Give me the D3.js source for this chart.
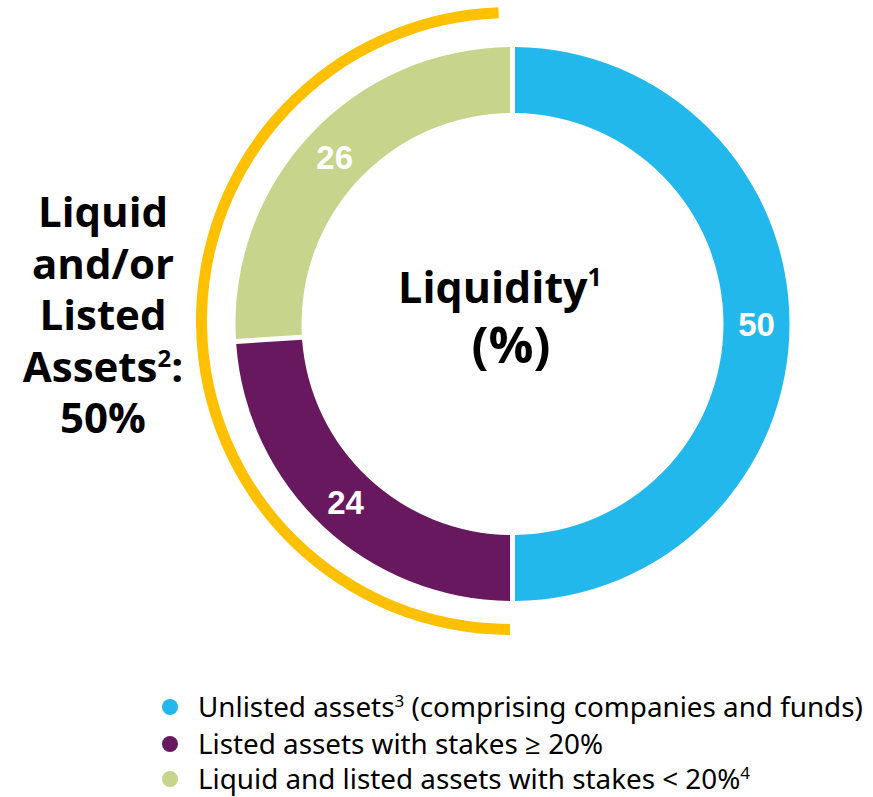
<!DOCTYPE html>
<html lang="en">
<head>
  <meta charset="UTF-8" />
  <title>Liquidity donut</title>
  <script src="https://d3js.org/d3.v7.min.js"></script>
  <style>
    body { margin: 0; padding: 0; background: #fff; }
    svg { display: block; }
  </style>
</head>
<body>
  <div id="chart"></div>
  <script>
    // data
    const categories = [
      "Unlisted assets",
      "Listed assets with stakes ≥ 20%",
      "Liquid and listed assets with stakes < 20%"
    ];
    const values = [50, 24, 26];
    const colors = ["#22b8eb", "#68185e", "#c6d58b"];
    const legendNotes = [
      { sup: "3", tail: " (comprising companies and funds)" },
      { sup: "", tail: "" },
      { sup: "4", tail: "" }
    ];
    const bracketShare = values[1] + values[2]; // liquid and/or listed
    const leftLines = ["Liquid", "and/or", "Listed", "Assets", `${bracketShare}%`];

    const W = 873, H = 797;
    const cx = 512.5, cy = 324;
    const outerR = 277, innerR = 211;

    const svg = d3.select("#chart").append("svg")
      .attr("width", W).attr("height", H);

    const pie = d3.pie().sort(null).value(d => d);
    const arc = d3.arc().innerRadius(innerR).outerRadius(outerR)
      .padAngle(0.05).padRadius(100);
    const labelArc = d3.arc().innerRadius((innerR + outerR) / 2).outerRadius((innerR + outerR) / 2);

    const g = svg.append("g").attr("transform", `translate(${cx},${cy})`);
    const arcs = pie(values);

    g.selectAll("path.slice")
      .data(arcs)
      .enter()
      .append("path")
      .attr("class", "slice")
      .attr("d", arc)
      .attr("fill", (d, i) => colors[i]);

    g.selectAll("text.val")
      .data(arcs)
      .enter()
      .append("text")
      .attr("class", "val")
      .attr("x", d => labelArc.centroid(d)[0])
      .attr("y", d => labelArc.centroid(d)[1])
      .attr("dy", "0.36em")
      .attr("text-anchor", "middle")
      .style("font-family", "'Liberation Sans', Arial, sans-serif")
      .style("font-weight", "bold")
      .style("font-size", "33px")
      .attr("fill", "#fff")
      .text(d => d.data);

    // yellow bracket over the liquid / listed part
    const span = bracketShare / d3.sum(values) * 2 * Math.PI;
    const bracket = d3.arc()
      .innerRadius(303).outerRadius(314)
      .startAngle(2 * Math.PI - span)
      .endAngle(2 * Math.PI - 0.037);
    svg.append("path")
      .attr("transform", `translate(510,321)`)
      .attr("d", bracket())
      .attr("fill", "#ffc000");

    // center title
    const center = svg.append("text")
      .attr("text-anchor", "middle")
      .style("font-family", "'Open Sans', 'Noto Sans', sans-serif")
      .style("font-weight", "bold")
      .style("font-size", "43px")
      .attr("fill", "#000");
    center.append("tspan").attr("x", 500).attr("y", 303).text("Liquidity");
    center.append("tspan").attr("dy", -17).style("font-size", "25px").text("1");
    center.append("tspan").attr("x", 511).attr("y", 363)
      .style("font-size", "50px").text("(%)");

    // left label
    const left = svg.append("text")
      .attr("text-anchor", "middle")
      .style("font-family", "'Open Sans', 'Noto Sans', sans-serif")
      .style("font-weight", "bold")
      .style("font-size", "42px")
      .attr("fill", "#000");
    leftLines.forEach((t, i) => {
      left.append("tspan").attr("x", 103).attr("y", 227 + i * 51.5).text(t);
      if (t === "Assets") {
        left.append("tspan").attr("dy", -15).style("font-size", "24px").text("2");
        left.append("tspan").attr("dy", 15).text(":");
      }
    });

    // legend
    const legend = svg.append("g").attr("transform", "translate(170,0)");
    const rowY = [717, 754, 789];
    const rows = legend.selectAll("g.row")
      .data(categories)
      .enter()
      .append("g")
      .attr("class", "row")
      .attr("transform", (d, i) => `translate(0,${rowY[i]})`);

    rows.append("circle")
      .attr("cx", 0).attr("cy", -10).attr("r", 8)
      .attr("fill", (d, i) => colors[i]);

    const lt = rows.append("text")
      .attr("x", 28)
      .style("font-family", "'Noto Sans', 'Open Sans', sans-serif")
      .style("font-size", "27.8px")
      .attr("fill", "#000");
    lt.append("tspan").text(d => d);
    lt.append("tspan")
      .attr("dy", -10)
      .style("font-size", "17px")
      .text((d, i) => legendNotes[i].sup);
    lt.append("tspan")
      .attr("dy", (d, i) => legendNotes[i].sup ? 10 : 0)
      .text((d, i) => legendNotes[i].tail);
  </script>
</body>
</html>
